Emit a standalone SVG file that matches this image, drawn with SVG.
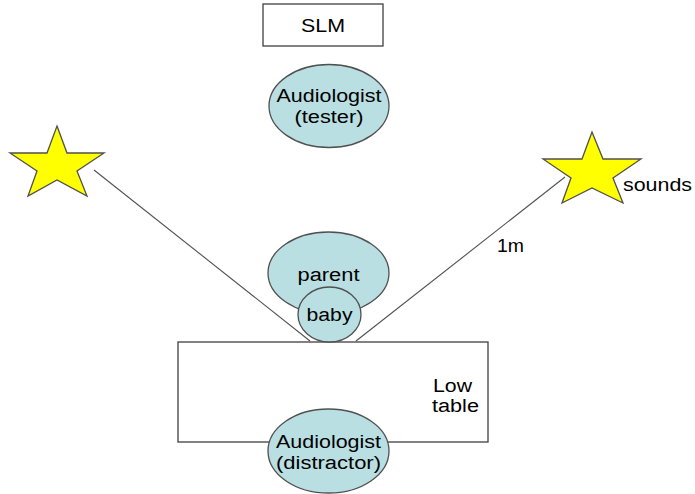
<svg xmlns="http://www.w3.org/2000/svg" width="695" height="494" viewBox="0 0 695 494">
<style>
.t{font-family:"Liberation Sans",Arial,sans-serif;font-size:18px;fill:#000;text-anchor:middle}
.l{text-anchor:start}
.box{fill:#fff;stroke:#404040;stroke-width:1.3}
.ell{fill:#b9dfe2;stroke:#505050;stroke-width:1.3}
.star{fill:#ffff00;stroke:#505050;stroke-width:1.3;stroke-linejoin:miter}
.conn{stroke:#505050;stroke-width:1.1;fill:none}
</style>
<rect width="695" height="494" fill="#fff"/>
<g id="slm">
<rect class="box" x="263" y="4" width="120" height="42"/>
<text class="t" x="323" y="32" textLength="44" lengthAdjust="spacingAndGlyphs">SLM</text>
</g>
<g id="tester">
<ellipse class="ell" cx="329" cy="106" rx="60" ry="41.5"/>
<text class="t" x="329" y="102" textLength="105" lengthAdjust="spacingAndGlyphs">Audiologist</text>
<text class="t" x="329" y="123" textLength="69" lengthAdjust="spacingAndGlyphs">(tester)</text>
</g>
<g id="star-left">
<polygon class="star" points="57,126 67,153 104,153 77,171 87,196 57,180 28,196 37,171 10,153 47,153"/>
</g>
<g id="star-right">
<polygon class="star" points="592,132 603,159 641,159 613,178 623,203 592,188 562,203 571,178 543,159 582,159"/>
<text class="t l" x="623" y="191" textLength="69" lengthAdjust="spacingAndGlyphs">sounds</text>
</g>
<g id="connectors">
<line class="conn" x1="94" y1="170" x2="310" y2="341"/>
<line class="conn" x1="565" y1="177" x2="356" y2="341"/>
<text class="t l" x="497" y="252" textLength="27" lengthAdjust="spacingAndGlyphs">1m</text>
</g>
<g id="table">
<rect class="box" x="178" y="342" width="310" height="100"/>
<text class="t l" x="433" y="392" textLength="39" lengthAdjust="spacingAndGlyphs">Low</text>
<text class="t l" x="432" y="412" textLength="47" lengthAdjust="spacingAndGlyphs">table</text>
</g>
<g id="parent">
<ellipse class="ell" cx="328.5" cy="273" rx="60.5" ry="41"/>
<text class="t" x="328.5" y="281" textLength="62" lengthAdjust="spacingAndGlyphs">parent</text>
</g>
<g id="baby">
<ellipse class="ell" cx="329.5" cy="314.5" rx="31.5" ry="27.5"/>
<text class="t" x="329.5" y="321" textLength="46" lengthAdjust="spacingAndGlyphs">baby</text>
</g>
<g id="distractor">
<ellipse class="ell" cx="328.5" cy="451" rx="60.5" ry="42"/>
<text class="t" x="328.5" y="448" textLength="105" lengthAdjust="spacingAndGlyphs">Audiologist</text>
<text class="t" x="328.5" y="469" textLength="105" lengthAdjust="spacingAndGlyphs">(distractor)</text>
</g>
</svg>
